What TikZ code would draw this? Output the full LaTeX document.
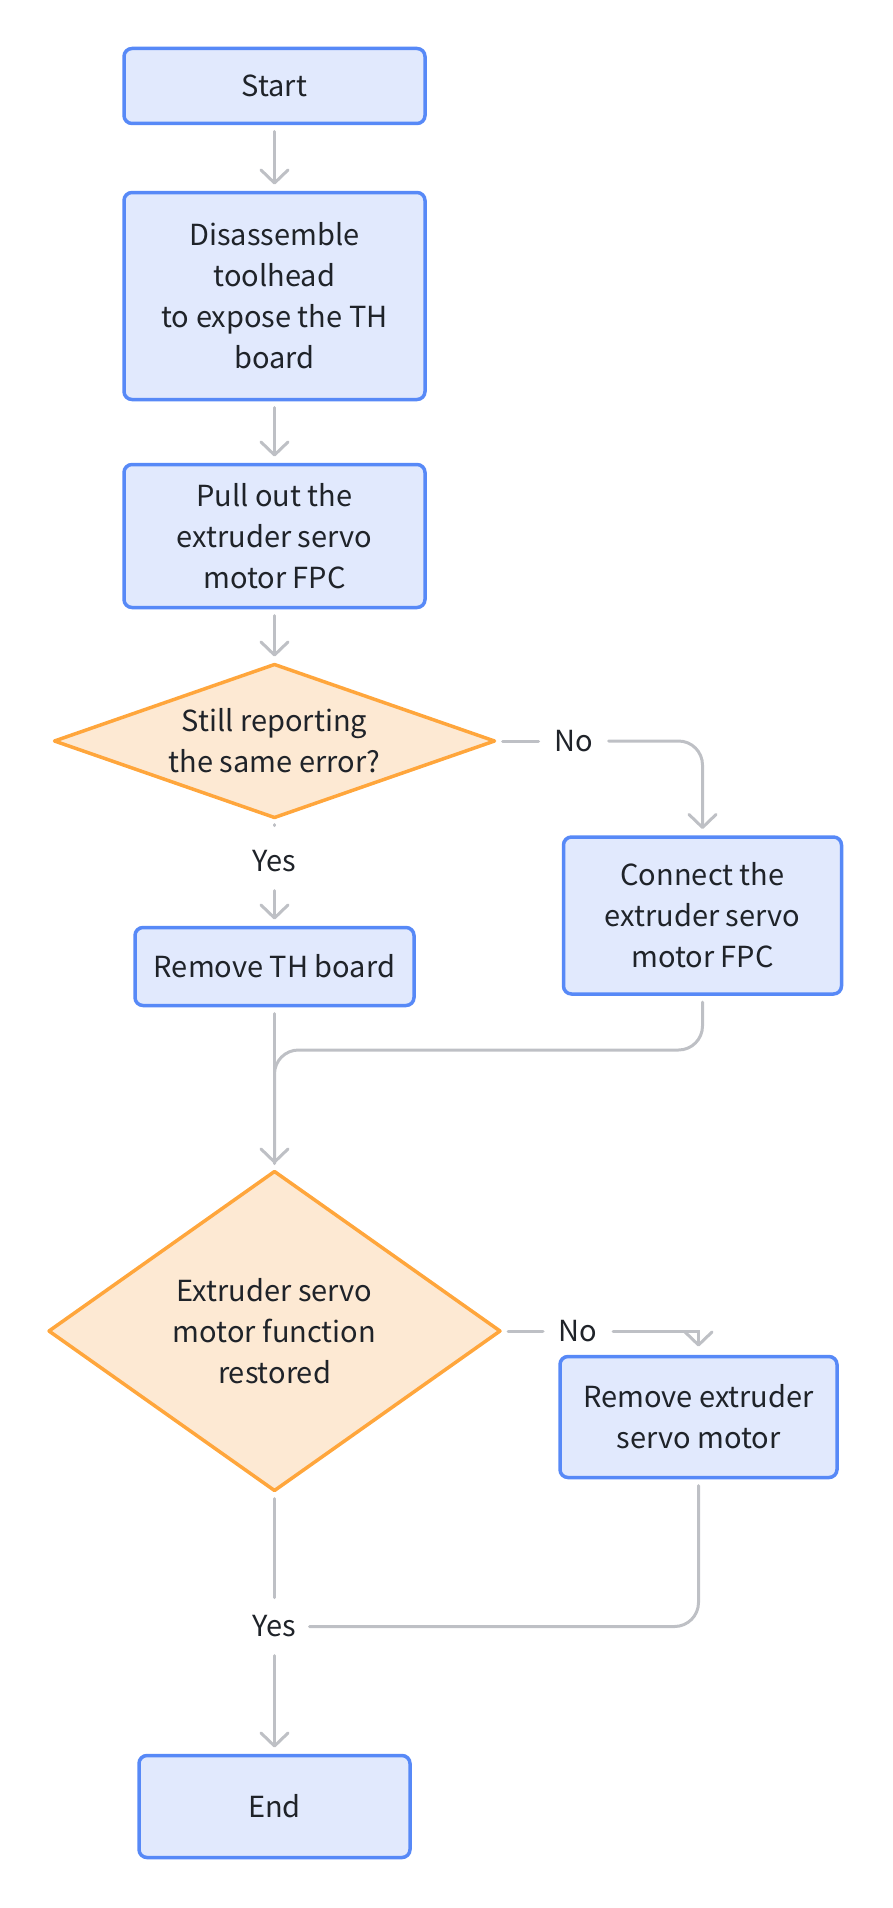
\documentclass[tikz,border=0pt]{standalone}
\usepackage{fontspec}
\setmainfont{Noto Sans CJK SC}
\usetikzlibrary{shapes.geometric,arrows.meta,positioning}
\definecolor{boxfill}{HTML}{E1E9FD}
\definecolor{boxline}{HTML}{5789F7}
\definecolor{decfill}{HTML}{FDE9D3}
\definecolor{decline}{HTML}{FFA63C}
\definecolor{conline}{HTML}{BEC0C5}
\definecolor{txt}{HTML}{1F2329}
\begin{document}
\begin{tikzpicture}[x=1pt,y=1pt,
  every node/.style={font=\fontsize{29pt}{41pt}\selectfont,text=txt,outer sep=0pt},
  box/.style={draw=boxline,fill=boxfill,line width=3.5pt,rounded corners=8pt,align=center,inner sep=0pt},
  decision/.style={diamond,draw=decline,fill=decfill,line width=3.5pt,line join=round,align=center,inner sep=0pt},
  lbl/.style={inner sep=0pt,minimum width=70pt,minimum height=58pt},
  line/.style={draw=conline,line width=3pt,line cap=round,shorten <=8pt,shorten >=8pt},
  arr/.style={line,-{Straight Barb[round,length=13pt,width=27pt]}}]
\useasboundingbox (0,0) rectangle (892,-1908);
\node[box,minimum width=301pt,minimum height=75pt] (start) at (274.5,-86) {Start};
\node[box,minimum width=301pt,minimum height=207pt,below=69pt of start] (dis) {Disassemble\\toolhead\\to expose the TH\\board};
\node[box,minimum width=301pt,minimum height=143pt,below=65pt of dis] (pull) {Pull out the\\extruder servo\\motor FPC};
\node[decision,aspect=2.9,minimum width=440pt,minimum height=153pt,below=57pt of pull] (d1) {Still reporting\\the same error?};
\node[lbl,right=44pt of d1.east] (no1) {No};
\node[box,minimum width=278pt,minimum height=157pt,below right=96pt and 69pt of d1.east] (conn) {Connect the\\extruder servo\\motor FPC};
\node[lbl,below=15pt of d1] (yes1) {Yes};
\node[box,minimum width=279pt,minimum height=78pt,below=37pt of yes1] (rth) {Remove TH board};
\node[decision,aspect=1.41,minimum width=451pt,minimum height=319pt,below=166pt of rth] (d2) {Extruder servo\\motor function\\restored};
\node[lbl,right=43pt of d2.east] (no2) {No};
\node[box,minimum width=277pt,minimum height=121pt,below right=25.5pt and 60pt of d2.east] (rem) {Remove extruder\\servo motor};
\node[lbl,below=107pt of d2] (yes2) {Yes};
\node[box,minimum width=271pt,minimum height=102pt,below=100pt of yes2] (end) {End};
% main column
\draw[arr] (start) -- (dis); \draw[arr] (dis) -- (pull); \draw[arr] (pull) -- (d1);
\draw[line] (d1) -- (yes1); \draw[arr,shorten <=0pt] (yes1) -- (rth);
\draw[arr] (rth) -- (d2);
\draw[line,shorten >=0pt] (d2) -- (yes2); \draw[arr,shorten <=0pt] (yes2) -- (end);
% no branches
\draw[line,shorten >=0pt] (d1.east) -- (no1);
\draw[arr,shorten <=0pt,rounded corners=24pt] (no1.east) -| (conn.north);
\draw[line,rounded corners=24pt] (conn.south) -- ++(0,-56) -| (d2.north);
\draw[line,shorten >=0pt] (d2.east) -- (no2);
\draw[arr,shorten <=0pt,shorten >=10pt] (no2.east) -| (rem.north);
\draw[line,shorten >=0pt,rounded corners=24pt] (rem.south) |- (yes2.east);
\end{tikzpicture}
\end{document}
